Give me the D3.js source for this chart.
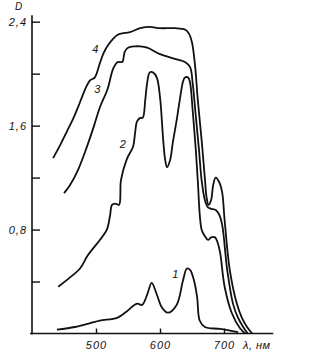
<!DOCTYPE html>
<html>
<head>
<meta charset="utf-8">
<script src="https://cdn.jsdelivr.net/npm/d3@7"></script>
<style>
  body { margin: 0; background: #fff; }
  svg text { font-family: "Liberation Sans", Arial, sans-serif; font-style: italic; fill: #111; }
</style>
</head>
<body>
<script>
// absorption spectra, wavelength (nm) and optical density D
const curve1 = [
  [439, 0.03], [467, 0.05], [491, 0.08], [506, 0.10], [533, 0.12], [548, 0.17],
  [564, 0.23], [572, 0.22], [580, 0.30], [587, 0.39], [595, 0.30], [603, 0.20],
  [612, 0.16], [626, 0.22], [636, 0.41], [642, 0.50], [647, 0.49], [653, 0.41],
  [658, 0.28], [662, 0.10], [670, 0.05], [694, 0.035], [722, 0.01]
]
const curve2 = [
  [441, 0.36], [459, 0.43], [475, 0.50], [487, 0.60], [506, 0.72], [517, 0.80],
  [522, 0.91], [525, 0.99], [530, 1.00], [536, 0.99], [539, 1.18], [548, 1.34],
  [558, 1.44], [561, 1.54], [564, 1.63], [569, 1.66], [573, 1.66], [577, 1.80],
  [580, 1.93], [584, 2.01], [589, 2.01], [595, 1.97], [600, 1.82], [605, 1.49],
  [608, 1.34], [611, 1.28], [616, 1.34], [620, 1.47], [626, 1.64], [631, 1.80],
  [636, 1.94], [639, 1.97], [644, 1.97], [647, 1.93], [651, 1.72], [656, 1.41],
  [659, 1.18], [665, 0.80], [670, 0.75], [675, 0.72], [680, 0.74], [686, 0.74],
  [690, 0.70], [694, 0.62], [701, 0.36], [712, 0.16], [725, 0.04], [733, 0.0]
]
const curve3 = [
  [450, 1.08], [459, 1.14], [472, 1.26], [486, 1.44], [497, 1.60], [506, 1.74],
  [518, 1.88], [527, 2.04], [534, 2.09], [541, 2.09], [545, 2.17], [550, 2.20],
  [561, 2.21], [569, 2.21], [580, 2.20], [600, 2.15], [619, 2.12], [639, 2.09],
  [647, 2.05], [651, 1.93], [656, 1.67], [661, 1.41], [665, 1.18], [670, 1.03],
  [675, 0.97], [680, 0.96], [687, 0.95], [692, 0.92], [697, 0.84], [705, 0.49],
  [714, 0.23], [722, 0.12], [730, 0.05], [737, 0.0]
]
const curve4 = [
  [433, 1.35], [444, 1.45], [455, 1.56], [464, 1.65], [475, 1.78], [484, 1.89],
  [491, 1.95], [498, 1.97], [506, 2.08], [512, 2.16], [519, 2.22], [527, 2.27],
  [534, 2.30], [541, 2.31], [553, 2.32], [569, 2.35], [584, 2.36], [600, 2.35],
  [623, 2.35], [639, 2.34], [645, 2.31], [650, 2.24], [655, 2.05], [659, 1.80],
  [665, 1.49], [670, 1.20], [673, 1.04], [676, 0.99], [680, 1.03], [683, 1.14],
  [687, 1.20], [692, 1.17], [697, 1.09], [701, 0.87], [709, 0.49], [720, 0.23],
  [728, 0.12], [736, 0.05], [744, 0.0]
]
const curves = [curve1, curve2, curve3, curve4]
const curveNames = ['1', '2', '3', '4']
// where the curve numbers sit (wavelength, D)
const curveLabelPos = [[624, 0.43], [542, 1.43], [502, 1.85], [499, 2.16]]

const xTicks = [500, 600, 700]
const yTicks = [0.4, 0.8, 1.2, 1.6, 2.0, 2.4]
const yLabelled = [0.8, 1.6, 2.4]

const width = 323, height = 354

const svg = d3.select('body').append('svg')
  .attr('width', width)
  .attr('height', height)

const x = d3.scaleLinear().domain([500, 700]).range([96, 224])
const y = d3.scaleLinear().domain([0, 2.4]).range([333.5, 21.7])

// axis lines, drawn a bit past the data like in the print
svg.append('line')
  .attr('x1', x(397)).attr('x2', x(777))
  .attr('y1', y(0)).attr('y2', y(0))
  .attr('stroke', '#111').attr('stroke-width', 1.6)
svg.append('line')
  .attr('x1', 32).attr('x2', 32)
  .attr('y1', y(0) + 1).attr('y2', y(2.45))
  .attr('stroke', '#111').attr('stroke-width', 1.6)

const fmt = d => yLabelled.includes(d) ? d3.format('.1f')(d).replace('.', ',') : ''

const yAxis = svg.append('g')
  .attr('transform', 'translate(32,0)')
  .call(d3.axisLeft(y).tickValues(yTicks).tickFormat(fmt).tickSizeInner(-8).tickSizeOuter(0).tickPadding(5))
yAxis.select('.domain').remove()
yAxis.selectAll('line').attr('stroke', '#111').attr('stroke-width', 1.4)
yAxis.selectAll('text').attr('font-size', 11).attr('letter-spacing', 1)
  .style('font-family', '"Liberation Sans", Arial, sans-serif')

const xAxis = svg.append('g')
  .attr('transform', `translate(0,${y(0)})`)
  .call(d3.axisBottom(x).tickValues(xTicks).tickFormat(d3.format('d')).tickSizeInner(-5).tickSizeOuter(0).tickPadding(8))
xAxis.select('.domain').remove()
xAxis.selectAll('line').attr('stroke', '#111').attr('stroke-width', 1.4)
xAxis.selectAll('text').attr('font-size', 11).attr('letter-spacing', 1)
  .style('font-family', '"Liberation Sans", Arial, sans-serif')

svg.append('text')
  .attr('x', 243).attr('y', 349)
  .attr('font-size', 11).attr('letter-spacing', 0.5)
  .text('λ, нм')

svg.append('text')
  .attr('x', 15).attr('y', 10)
  .attr('font-size', 10)
  .text('D')

const line = d3.line()
  .x(d => x(d[0]))
  .y(d => y(d[1]))
  .curve(d3.curveCatmullRom.alpha(0.5))

svg.selectAll('.spectrum')
  .data(curves)
  .enter()
  .append('path')
  .attr('class', 'spectrum')
  .attr('d', line)
  .attr('fill', 'none')
  .attr('stroke', '#111')
  .attr('stroke-width', 1.8)
  .attr('stroke-linejoin', 'round')

svg.selectAll('.curveLabel')
  .data(curveNames)
  .enter()
  .append('text')
  .attr('class', 'curveLabel')
  .attr('x', (d, i) => x(curveLabelPos[i][0]))
  .attr('y', (d, i) => y(curveLabelPos[i][1]))
  .attr('font-size', 11)
  .attr('text-anchor', 'middle')
  .text(d => d)
</script>
</body>
</html>
